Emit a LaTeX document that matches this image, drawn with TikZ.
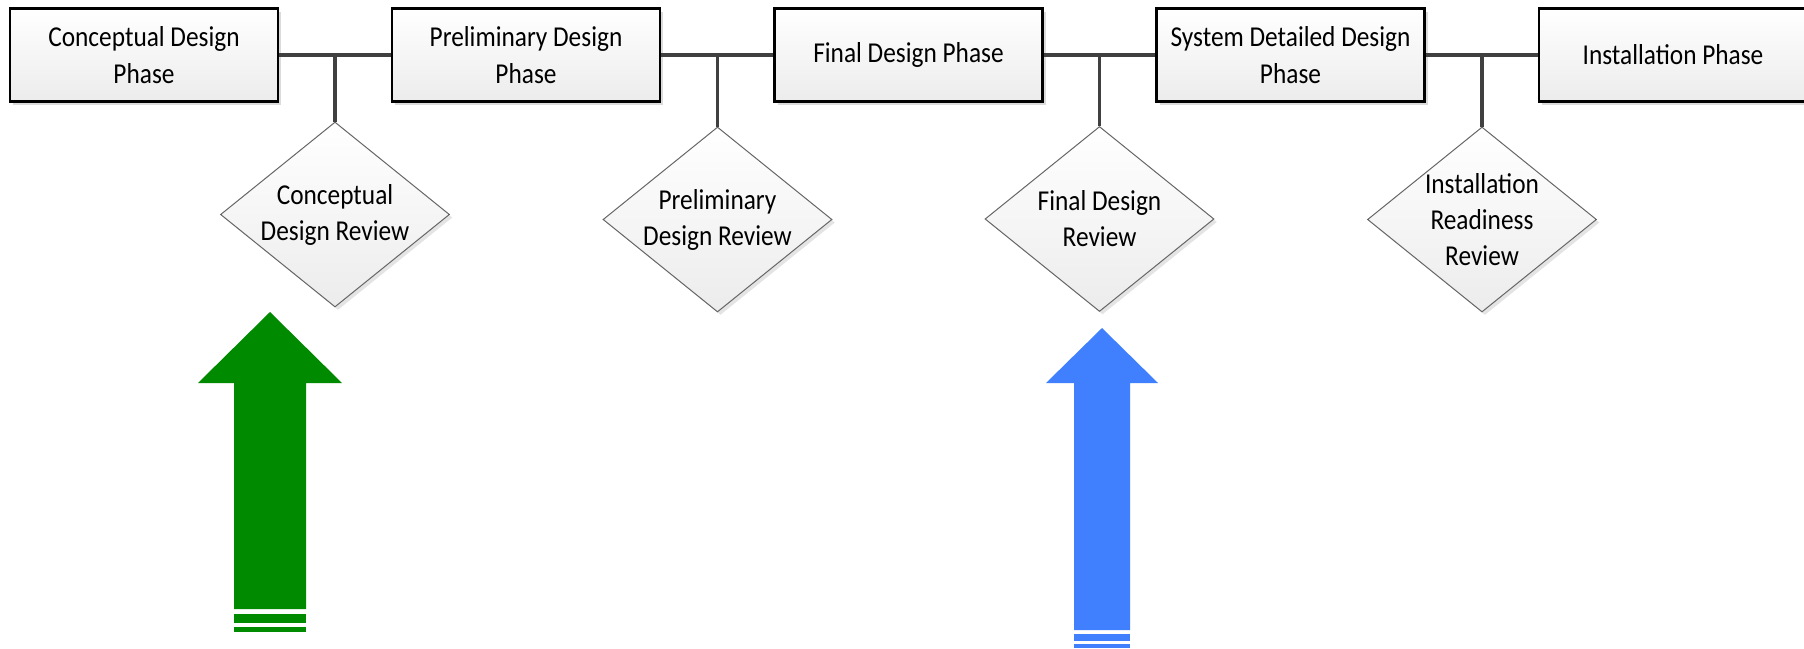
\documentclass[tikz,border=0pt]{standalone}
\usepackage{fontspec}
\setmainfont{Carlito}[FakeStretch=0.88]
\usepackage{xcolor}
\usetikzlibrary{shapes.geometric,shadows,positioning}

\definecolor{arrowgreen}{RGB}{0,138,0}
\definecolor{arrowblue}{RGB}{64,128,255}

\begin{document}
\begin{tikzpicture}[x=0.5pt, y=-0.5pt,
        phase/.style={rectangle, draw=black, line width=1.2pt, top color=white, bottom color=gray!15, minimum width=134pt, minimum height=46.5pt, align=center, font=\fontsize{14.4}{18.5}\selectfont, drop shadow={shadow xshift=1.5pt, shadow yshift=-1.5pt, fill=black!20, opacity=0.7}},
        review/.style={diamond, draw=black!60, line width=0.5pt, top color=white, bottom color=gray!15, minimum width=114.5pt, minimum height=92.5pt, inner sep=0pt, drop shadow={shadow xshift=1.5pt, shadow yshift=-1.5pt, fill=black!15, opacity=0.7}},
        reviewtext/.style={align=center, font=\fontsize{14.4}{18}\selectfont},
        link/.style={draw=black!75, line width=1.6pt}
    ]

    \clip (0,0) rectangle (1804,648);

    % Phases along the top
    \node[phase] (conceptual)  at (144,55)    {Conceptual Design\\Phase};
    \node[phase] (preliminary) at (526,55)    {Preliminary Design\\Phase};
    \node[phase] (final)       at (908.5,55)  {Final Design Phase};
    \node[phase] (detailed)    at (1290.5,55) {System Detailed Design\\Phase};
    \node[phase] (installation) at (1673,55)  {Installation Phase};

    % Reviews between the phases
    \node[review] (cdr) at (335,214.5) {};
    \node[reviewtext] (cdr_text) at (cdr) {Conceptual\\Design Review};

    \node[review] (pdr) at (717.5,219.5) {};
    \node[reviewtext] (pdr_text) at (pdr) {Preliminary\\Design Review};

    \node[review] (fdr) at (1099.5,219) {};
    \node[reviewtext] (fdr_text) at (fdr) {Final Design\\Review};

    \node[review] (irr) at (1482,219.5) {};
    \node[reviewtext] (irr_text) at (irr) {Installation\\Readiness\\Review};

    % Timeline links
    \draw[link] (conceptual.east) -- (preliminary.west);
    \draw[link] (preliminary.east) -- (final.west);
    \draw[link] (final.east) -- (detailed.west);
    \draw[link] (detailed.east) -- (installation.west);

    % Stems down to the reviews
    \draw[link] (cdr.north) -- (cdr.north |- conceptual.east);
    \draw[link] (pdr.north) -- (pdr.north |- preliminary.east);
    \draw[link] (fdr.north) -- (fdr.north |- final.east);
    \draw[link] (irr.north) -- (irr.north |- detailed.east);

    % Green marker under the conceptual review
    \fill[arrowgreen] (270,312) -- (342,383) -- (306,383) -- (306,609) -- (234,609) -- (234,383) -- (198,383) -- cycle;
    \fill[arrowgreen] (234,614) rectangle (306,623);
    \fill[arrowgreen] (234,627) rectangle (306,632);

    % Blue marker under the final design review
    \fill[arrowblue] (1102,328) -- (1158,383) -- (1130,383) -- (1130,630) -- (1074,630) -- (1074,383) -- (1046,383) -- cycle;
    \fill[arrowblue] (1074,634) rectangle (1130,641);
    \fill[arrowblue] (1074,644) rectangle (1130,648);

\end{tikzpicture}
\end{document}
